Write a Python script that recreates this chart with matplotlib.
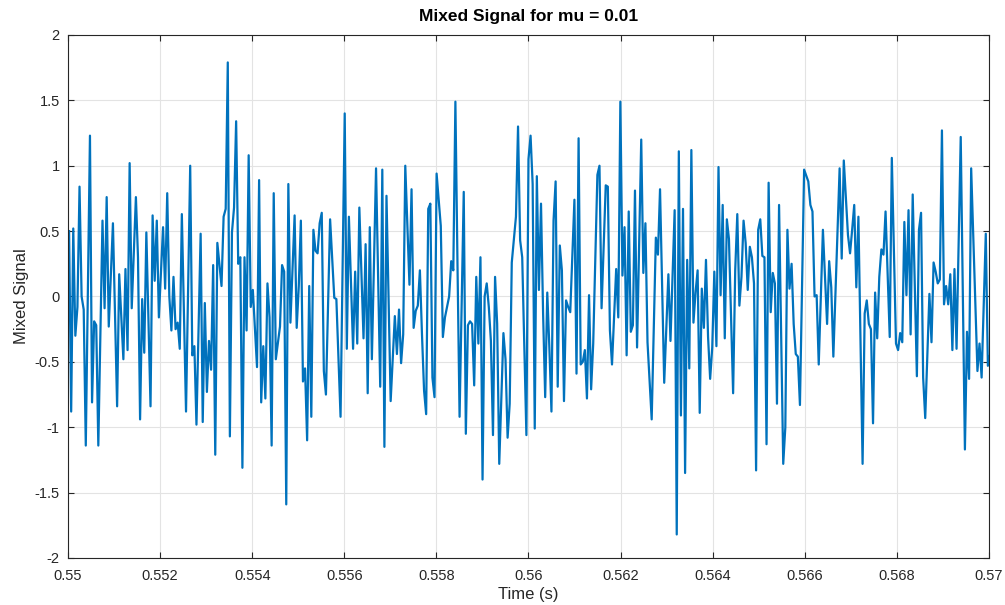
import numpy as np
import matplotlib
matplotlib.use("Agg")
import matplotlib.pyplot as plt

fs = 22050
n0 = 12128  # first sample index at/after t = 0.55 s

# sample offsets (from n0) of the visible vertices and the signal values there
idx = [0, 1, 2, 3, 4, 5, 6, 7, 8, 10, 11, 12, 13, 14, 16, 17, 18, 19, 21, 23,
       24, 26, 27, 28, 29, 30, 32, 33, 34, 35, 36, 37, 39, 40, 41, 42, 43, 45, 46, 47,
       48, 49, 50, 51, 52, 53, 54, 56, 58, 59, 60, 61, 63, 64, 65, 66, 67, 68, 69, 70,
       71, 73, 74, 75, 76, 77, 78, 79, 80, 81, 82, 83, 84, 85, 86, 87, 88, 90, 91, 92,
       93, 94, 95, 96, 97, 98, 99, 101, 102, 103, 104, 105, 106, 108, 109, 110, 111, 112, 113, 114,
       115, 116, 117, 118, 119, 120, 121, 122, 123, 125, 127, 128, 130, 132, 133, 134, 136, 137, 138, 139,
       141, 142, 143, 144, 145, 147, 149, 150, 151, 152, 154, 156, 157, 158, 159, 160, 161, 163, 164, 165,
       166, 167, 168, 169, 170, 171, 172, 173, 174, 175, 176, 178, 179, 180, 182, 183, 184, 185, 186, 187,
       189, 190, 191, 192, 193, 194, 195, 196, 197, 198, 199, 200, 201, 202, 203, 204, 205, 206, 208, 209,
       210, 211, 212, 214, 215, 216, 217, 219, 220, 221, 222, 223, 224, 225, 226, 227, 228, 229, 230, 231,
       232, 233, 234, 235, 236, 237, 238, 239, 240, 242, 243, 244, 245, 246, 247, 248, 249, 250, 251, 253,
       254, 255, 257, 258, 259, 260, 262, 263, 264, 265, 266, 267, 268, 269, 270, 271, 272, 274, 275, 276,
       277, 279, 281, 282, 283, 285, 287, 288, 290, 291, 292, 293, 294, 295, 296, 297, 298, 299, 300, 301,
       302, 303, 304, 305, 306, 307, 308, 309, 310, 311, 312, 313, 314, 315, 316, 318, 319, 320, 321, 322,
       323, 324, 325, 326, 327, 328, 329, 330, 331, 332, 333, 334, 335, 336, 337, 338, 339, 340, 342, 343,
       344, 345, 346, 347, 348, 349, 350, 352, 354, 355, 356, 357, 358, 359, 361, 363, 364, 365, 366, 369,
       370, 371, 373, 374, 375, 376, 377, 378, 380, 381, 382, 383, 384, 385, 386, 387, 388, 389, 390, 391,
       393, 394, 396, 397, 398, 399, 400, 401, 402, 403, 404, 406, 407, 408, 409, 410, 412, 413, 414, 415,
       416, 417, 418, 419, 420, 421, 422, 423, 424, 425, 427, 429, 430, 431, 432, 435, 436, 437, 439, 440,
       441]

mixed = [0.50, -0.88, 0.52, -0.30, -0.08, 0.84, 0.00, -0.10, -1.14, 1.23, -0.81, -0.19, -0.22, -1.14, 0.58, -0.09, 0.76, -0.23, 0.56, -0.84,
         0.17, -0.48, 0.21, -0.41, 1.02, -0.09, 0.76, 0.30, -0.94, -0.02, -0.43, 0.49, -0.84, 0.62, 0.12, 0.58, -0.16, 0.53, 0.06, 0.79,
         0.00, -0.26, 0.15, -0.25, -0.20, -0.40, 0.63, -0.88, 1.00, -0.45, -0.38, -0.98, 0.48, -0.96, -0.05, -0.73, -0.34, -0.56, 0.24, -1.21,
         0.41, 0.08, 0.61, 0.67, 1.79, -1.07, 0.49, 0.68, 1.34, 0.25, 0.30, -1.31, 0.30, -0.26, 1.08, -0.08, 0.05, -0.54, 0.89, -0.81,
         -0.38, -0.78, 0.10, -0.16, -1.14, 0.79, -0.48, -0.23, 0.24, 0.19, -1.59, 0.86, -0.20, 0.62, -0.24, 0.08, 0.58, -0.65, -0.55, -1.10,
         0.08, -0.92, 0.51, 0.35, 0.33, 0.56, 0.64, -0.57, -0.75, 0.59, -0.01, -0.02, -0.92, 1.40, -0.40, 0.61, -0.40, 0.19, -0.36, 0.68,
         -0.32, 0.40, -0.74, 0.53, -0.48, 0.98, -0.69, 0.97, -1.15, 0.77, -0.80, -0.15, -0.44, -0.10, -0.51, -0.29, 1.00, 0.09, 0.82, -0.24,
         -0.11, -0.07, 0.20, -0.29, -0.72, -0.90, 0.67, 0.71, -0.62, -0.77, 0.94, 0.54, -0.31, -0.16, 0.00, 0.27, 0.20, 1.49, 0.25, -0.92,
         0.80, -1.05, -0.22, -0.19, -0.21, -0.68, 0.15, -0.36, 0.30, -1.40, 0.00, 0.10, -0.08, -0.34, -1.06, 0.15, -0.21, -1.28, -0.28, -0.48,
         -1.08, -0.82, 0.26, 0.61, 1.30, 0.43, 0.30, -1.06, 1.05, 1.23, 0.86, -1.01, 0.92, 0.05, 0.71, -0.13, -0.77, 0.03, -0.39, -0.88,
         0.58, 0.88, -0.69, 0.39, 0.20, -0.80, -0.03, -0.08, -0.12, 0.74, -0.59, 1.21, -0.52, -0.50, -0.41, -0.78, 0.01, -0.71, -0.36, 0.93,
         1.00, -0.09, 0.85, 0.84, -0.26, -0.52, 0.21, -0.16, 1.49, 0.16, 0.53, -0.45, 0.65, -0.27, -0.22, 0.81, -0.39, 1.20, 0.18, 0.56,
         -0.35, -0.94, 0.45, 0.32, 0.82, -0.66, 0.17, -0.34, 0.66, -1.82, 1.11, -0.91, 0.67, -1.35, 0.28, -0.55, 1.12, -0.20, 0.03, 0.20,
         -0.89, 0.06, -0.24, 0.28, -0.31, -0.63, -0.39, 0.19, -0.38, 0.99, 0.01, 0.70, -0.32, 0.59, 0.44, -0.74, 0.20, 0.63, -0.07, 0.15,
         0.58, 0.41, 0.05, 0.38, 0.30, 0.10, -1.33, 0.51, 0.59, 0.31, 0.30, -1.13, 0.87, -0.12, 0.18, 0.10, -0.82, 0.70, -1.28, -1.00,
         0.51, 0.06, 0.25, -0.21, -0.44, -0.46, -0.83, 0.97, 0.88, 0.70, 0.65, 0.00, 0.01, -0.52, 0.51, -0.21, 0.27, 0.07, -0.46, 0.98,
         0.29, 1.04, 0.47, 0.33, 0.51, 0.70, 0.07, 0.61, -1.28, -0.13, -0.03, -0.21, -0.25, -0.97, 0.03, -0.32, 0.15, 0.36, 0.32, 0.65,
         -0.31, 1.06, -0.36, -0.41, -0.28, -0.35, 0.57, 0.01, 0.66, -0.29, 0.78, -0.61, 0.51, 0.64, -0.62, -0.93, 0.02, -0.35, 0.26, 0.19,
         0.10, 0.13, 1.27, -0.06, 0.08, -0.06, 0.17, -0.41, 0.21, -0.40, 1.22, -1.17, -0.27, -0.63, 0.98, -0.57, -0.36, -0.62, 0.48, -0.53,
         -0.45]

xticks = np.arange(0.55, 0.5701, 0.002)
yticks = np.arange(-2, 2.01, 0.5)

plt.rcParams["font.family"] = ["Liberation Sans", "DejaVu Sans"]
plt.rcParams["axes.unicode_minus"] = False

t = (n0 + np.array(idx)) / fs

fig = plt.figure(figsize=(10.05, 6.05), dpi=100)
ax = fig.add_axes([0.0677, 0.0777, 0.9163, 0.8645])
ax.plot(t, mixed, color="#0072BD", lw=1.6)

ax.set_xlim(0.55, 0.57)
ax.set_ylim(-2, 2)
ax.set_xticks(xticks)
ax.set_xticklabels([f"{v:g}" for v in np.round(xticks, 3)])
ax.set_yticks(yticks)
ax.set_yticklabels([f"{v:g}" for v in yticks])
ax.grid(True, color="#e3e3e3", lw=0.8)
ax.set_axisbelow(True)
ax.tick_params(direction="in", top=True, right=True, length=4, labelsize=10.5,
               colors="#262626")
ax.tick_params(axis="x", pad=8)
ax.tick_params(axis="y", pad=6)
for s in ax.spines.values():
    s.set_color("#262626")
    s.set_linewidth(0.8)

ax.set_xlabel("Time (s)", fontsize=12, color="#262626", labelpad=3)
ax.set_ylabel("Mixed Signal", fontsize=12, color="#262626", labelpad=4)
ax.set_title("Mixed Signal for mu = 0.01", fontsize=12.5, fontweight="bold", pad=10)

fig.savefig("out.png", dpi=100)
